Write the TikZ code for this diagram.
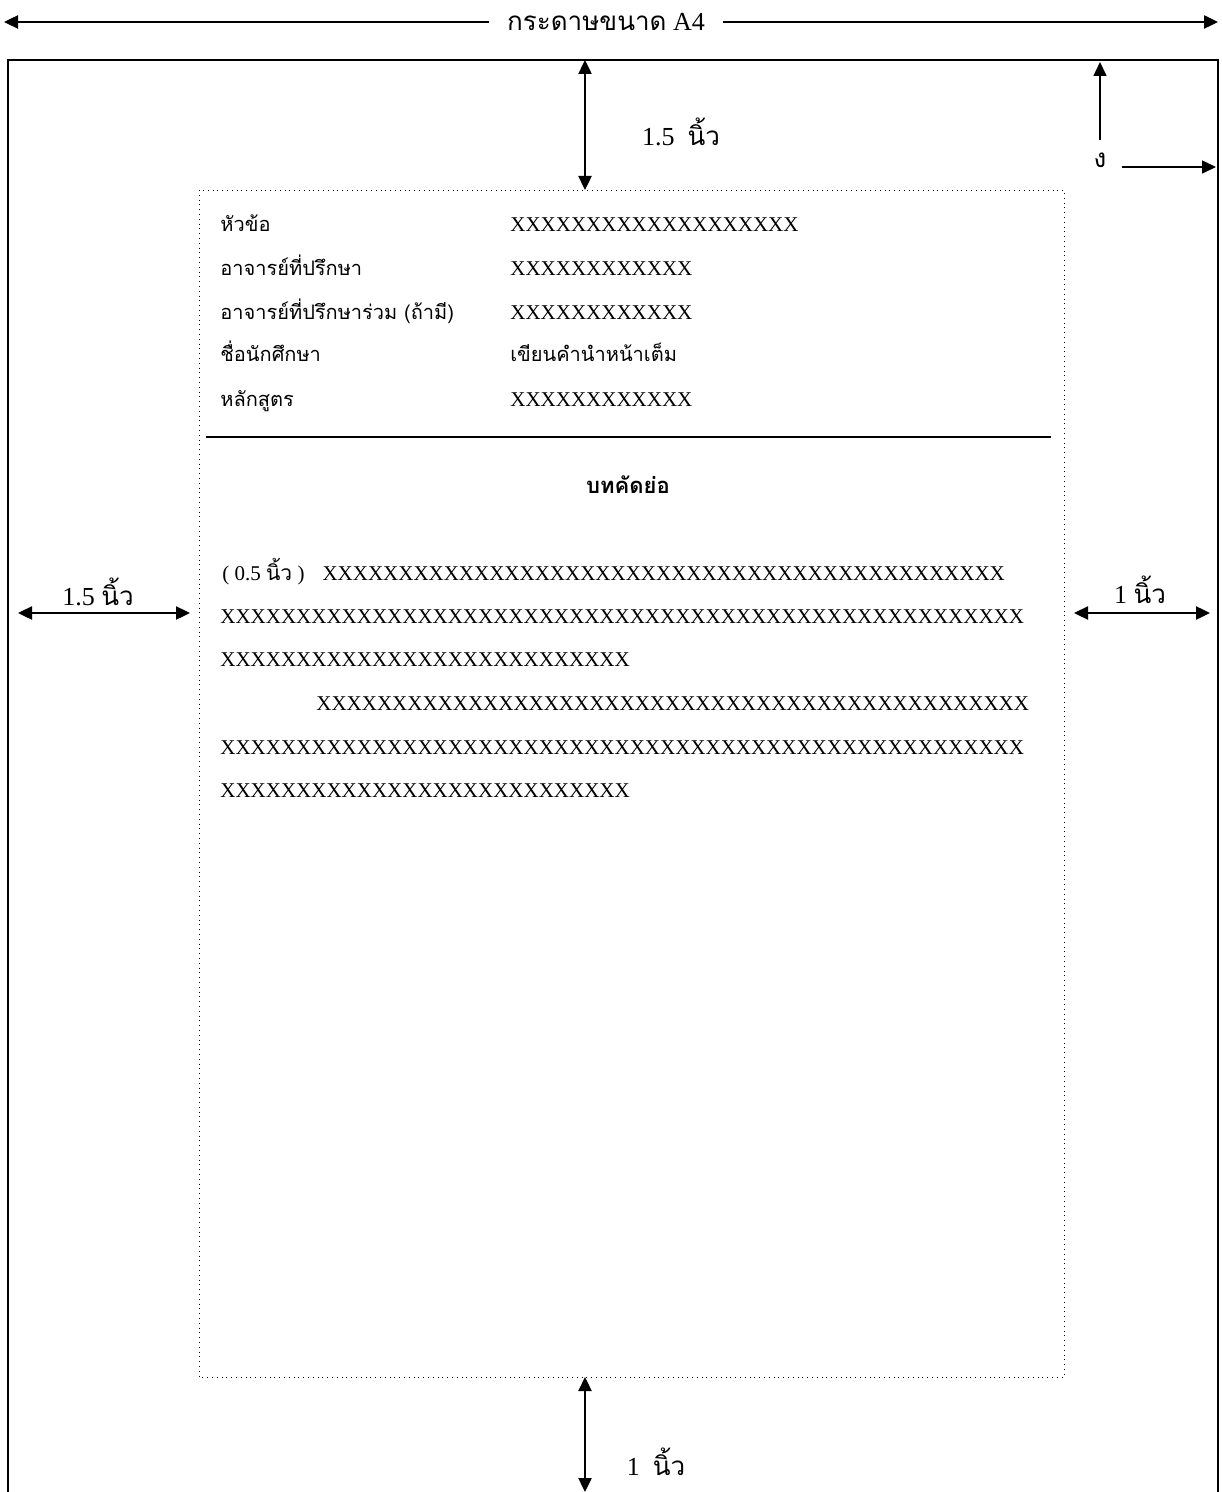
\documentclass[tikz,border=0pt]{standalone}
\usepackage{fontspec}
\setmainfont{Liberation Serif}
\newfontfamily\thai[Script=Thai]{Loma}
\usetikzlibrary{arrows.meta}

\newcommand{\xrun}[1]{\foreach \n in {1,...,#1}{X}}

\tikzset{
  dimarrow/.style={very thick, {Triangle[length=7pt,width=6.5pt]}-{Triangle[length=7pt,width=6.5pt]}},
  onearrow/.style={thick, -{Triangle[length=7pt,width=6.5pt]}},
  dimlabel/.style={align=center, font=\fontsize{13}{15}\selectfont, inner sep=1pt},
  hdr/.style={anchor=base west, inner sep=0pt, font=\fontsize{10}{12}\selectfont},
  bodyline/.style={anchor=base west, inner sep=0pt, font=\fontsize{10.5}{12}\selectfont},
}

\begin{document}
\begin{tikzpicture}[x=.5pt,y=-.5pt]
\useasboundingbox (0,0) rectangle (1221,1492);

% paper size
\node[dimlabel, fill=white, inner xsep=9pt] (a4) at (606,22) {{\thai กระดาษขนาด} A4};
\coordinate (a4l) at (4,22);
\coordinate (a4r) at (1218,22);
\draw[onearrow, very thick] (a4.west) -- (a4l);
\draw[onearrow, very thick] (a4.east) -- (a4r);

% page edge (runs off the bottom)
\draw[line width=1.2pt] (8,1492) -- (8,60) -- (1218,60) -- (1218,1492);

% text area
\draw[dotted, thin] (199,190) rectangle (1064,1377);
\coordinate (ptop) at (585,60);
\coordinate (atop) at (585,190);
\coordinate (abot) at (585,1377);
\coordinate (pbot) at (585,1492);

% top margin
\draw[dimarrow] (ptop) -- (atop);
\node[dimlabel] (mtop) at (681,132) {1.5\ \ {\thai นิ้ว}};

% corner note
\node[dimlabel] (ngo) at (1100,160) {\thai ง};
\coordinate (ngoup) at (1100,62);
\coordinate (ngoright) at (1216,167);
\draw[onearrow] (1100,140) -- (ngoup);
\draw[onearrow] (1122,167) -- (ngoright);

% left margin
\coordinate (lm1) at (18,613);
\coordinate (lm2) at (190,613);
\draw[dimarrow] (lm1) -- (lm2);
\node[dimlabel] (mleft) at (98,592) {1.5 {\thai นิ้ว}};

% right margin
\coordinate (rm1) at (1074,613);
\coordinate (rm2) at (1210,613);
\draw[dimarrow] (rm1) -- (rm2);
\node[dimlabel] (mright) at (1140,590) {1 {\thai นิ้ว}};

% bottom margin
\draw[dimarrow] (abot) -- (pbot);
\node[dimlabel] (mbot) at (656,1462) {1\ \ {\thai นิ้ว}};

% header block (baselines)
\node[hdr] (lTopic) at (220,232) {\thai หัวข้อ};
\node[hdr] (lAdv) at (220,276) {\thai อาจารย์ที่ปรึกษา};
\node[hdr] (lCoadv) at (220,320) {\thai อาจารย์ที่ปรึกษาร่วม (ถ้ามี)};
\node[hdr] (lName) at (220,362) {\thai ชื่อนักศึกษา};
\node[hdr] (lProg) at (220,406) {\thai หลักสูตร};
\node[bodyline] (vTopic) at (510,232) {\xrun{19}};
\node[bodyline] (vAdv) at (510,276) {\xrun{12}};
\node[bodyline] (vCoadv) at (510,320) {\xrun{12}};
\node[hdr] (vName) at (510,362) {\thai เขียนคำนำหน้าเต็ม};
\node[bodyline] (vProg) at (510,406) {\xrun{12}};

\draw[line width=1.2pt] (206,437) -- (1051,437);

% abstract
\node[inner sep=0pt, font=\fontsize{11}{13}\selectfont\bfseries] (abs) at (628,485) {\thai บทคัดย่อ};
\node[bodyline] (p1) at (222,580) {( 0.5 {\thai นิ้ว} )\hspace{9pt}\xrun{45}};
\node[bodyline] (p2) at (220,623) {\xrun{53}};
\node[bodyline] (p3) at (220,666) {\xrun{27}};
\node[bodyline] (p4) at (316,710) {\xrun{47}};
\node[bodyline] (p5) at (220,754) {\xrun{53}};
\node[bodyline] (p6) at (220,797) {\xrun{27}};
\end{tikzpicture}
\end{document}
